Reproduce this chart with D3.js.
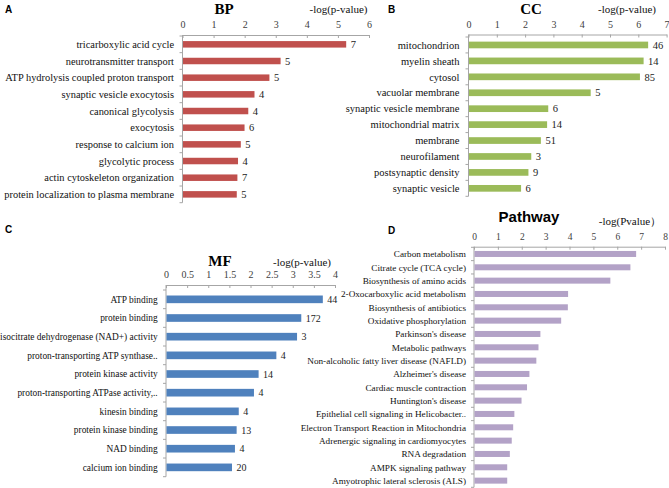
<!DOCTYPE html>
<html><head><meta charset="utf-8">
<script src="https://cdn.jsdelivr.net/npm/d3@7"></script>
<style>body{margin:0;background:#fff}svg{display:block}</style>
</head><body>
<svg id="chart" width="669" height="488"></svg>
<script>
// ---- data ----
const bpTerms = ["tricarboxylic acid cycle","neurotransmitter transport","ATP hydrolysis coupled proton transport","synaptic vesicle exocytosis","canonical glycolysis","exocytosis","response to calcium ion","glycolytic process","actin cytoskeleton organization","protein localization to plasma membrane"];
const bpValues = [5.25,3.14,2.78,2.30,2.10,1.98,1.86,1.77,1.75,1.73];
const bpCounts = [7,5,5,4,4,6,5,4,7,5];
const bpTicks = [0,1,2,3,4,5,6];

const ccTerms = ["mitochondrion","myelin sheath","cytosol","vacuolar membrane","synaptic vesicle membrane","mitochondrial matrix","membrane","neurofilament","postsynaptic density","synaptic vesicle"];
const ccValues = [6.33,6.17,6.04,4.30,2.80,2.76,2.54,2.20,2.10,1.84];
const ccCounts = [46,14,85,5,6,14,51,3,9,6];
const ccTicks = [0,1,2,3,4,5,6,7];

const mfTerms = ["ATP binding","protein binding","isocitrate dehydrogenase (NAD+) activity","proton-transporting ATP synthase..","protein kinase activity","proton-transporting ATPase activity,..","kinesin binding","protein kinase binding","NAD binding","calcium ion binding"];
const mfValues = [3.70,3.19,3.09,2.60,2.18,2.07,1.71,1.66,1.62,1.55];
const mfCounts = [44,172,3,4,14,4,4,13,4,20];
const mfTicks = [0,0.5,1,1.5,2,2.5,3,3.5,4];

const pathwayTerms = ["Carbon metabolism","Citrate cycle (TCA cycle)","Biosynthesis of amino acids","2-Oxocarboxylic acid metabolism","Biosynthesis of antibiotics","Oxidative phosphorylation","Parkinson's disease","Metabolic pathways","Non-alcoholic fatty liver disease (NAFLD)","Alzheimer's disease","Cardiac muscle contraction","Huntington's disease","Epithelial cell signaling in Helicobacter..","Electron Transport Reaction in Mitochondria","Adrenergic signaling in cardiomyocytes","RNA degradation","AMPK signaling pathway","Amyotrophic lateral sclerosis (ALS)"];
const pathwayValues = [6.77,6.53,5.69,3.92,3.91,3.63,2.76,2.68,2.59,2.30,2.20,1.97,1.67,1.62,1.56,1.48,1.37,1.37];
const pathwayTicks = [0,1,2,3,4,5,6,7,8];

// ---- drawing ----
const svg = d3.select("#chart");
const serif = "'Liberation Serif','Times New Roman',serif";
const sans = "'Liberation Sans',Arial,sans-serif";
const axisColor = "#a6a6a6";

function panel(o){
  const g = svg.append("g");
  const x = d3.scaleLinear().domain([o.ticks[0], o.ticks[o.ticks.length-1]]).range([o.x0, o.x1]);
  const y = d3.scaleBand().domain(o.terms).range([o.yTop, o.yBot]).paddingInner(o.pad).paddingOuter(o.pad/2);
  // x axis on top
  const ax = g.append("g").attr("transform", `translate(0,${o.axisY})`)
    .call(d3.axisTop(x).tickValues(o.ticks).tickSize(3).tickSizeOuter(0).tickPadding(4).tickFormat(d3.format("")));
  ax.select(".domain").attr("stroke", axisColor);
  ax.selectAll(".tick line").attr("stroke", axisColor).attr("y2", 3);
  ax.selectAll("text").attr("font-family", serif).attr("font-size", o.tickFont).attr("fill", "#404040");
  // vertical category axis
  g.append("line").attr("x1", o.x0).attr("x2", o.x0).attr("y1", o.axisY).attr("y2", o.yBot).attr("stroke", axisColor);
  const bounds = o.terms.map((t,i)=> y(t) - y.step()*y.paddingInner()/2).concat([o.yBot]);
  g.selectAll(".cb").data(bounds).join("line").attr("x1", o.x0-3).attr("x2", o.x0).attr("y1", d=>d).attr("y2", d=>d).attr("stroke", axisColor);
  // bars
  g.selectAll(".bar").data(o.values).join("rect")
    .attr("x", x(0)+0.5).attr("y", (d,i)=> y(o.terms[i]))
    .attr("width", d=> x(d)-x(0)).attr("height", y.bandwidth()).attr("fill", o.color);
  // category labels
  g.selectAll(".lab").data(o.terms).join("text")
    .attr("x", o.x0 - o.labGap).attr("y", d=> y(d)+y.bandwidth()/2).attr("dy", "0.35em")
    .attr("text-anchor", "end").attr("font-family", serif).attr("font-size", o.labFont).attr("fill", "#111")
    .text(d=>d);
  // counts
  if (o.counts){
    g.selectAll(".cnt").data(o.counts).join("text")
      .attr("x", (d,i)=> x(o.values[i]) + 5).attr("y", (d,i)=> y(o.terms[i])+y.bandwidth()/2).attr("dy", "0.35em")
      .attr("font-family", serif).attr("font-size", o.cntFont).attr("fill", "#222").text(d=>d);
  }
  // titles
  g.append("text").attr("x", o.titleX).attr("y", o.titleY).attr("text-anchor", "middle")
    .attr("font-family", o.titleFamily).attr("font-weight", "bold").attr("font-size", o.titleFont).attr("fill", "#000").text(o.title);
  g.append("text").attr("x", o.unitX).attr("y", o.unitY).attr("text-anchor", "middle")
    .attr("font-family", serif).attr("font-size", o.unitFont).attr("fill", "#111").text(o.unit);
  g.append("text").attr("x", o.letterX).attr("y", o.letterY)
    .attr("font-family", sans).attr("font-weight", "bold").attr("font-size", 10).attr("fill", "#000").text(o.letter);
}

panel({terms: bpTerms, values: bpValues, counts: bpCounts, ticks: bpTicks, color: "#c0504d",
  x0: 182.5, x1: 369, axisY: 35, yTop: 36, yBot: 202.7, pad: 0.61,
  tickFont: 10, labFont: 10.4, cntFont: 10.5, labGap: 8.5,
  title: "BP", titleFamily: serif, titleFont: 15, titleX: 224, titleY: 14,
  unit: "-log(p-value)", unitX: 338.5, unitY: 13, unitFont: 11,
  letter: "A", letterX: 5, letterY: 13});

panel({terms: ccTerms, values: ccValues, counts: ccCounts, ticks: ccTicks, color: "#9bbb59",
  x0: 468.5, x1: 666.6, axisY: 34.5, yTop: 37, yBot: 196.3, pad: 0.58,
  tickFont: 10, labFont: 10.5, cntFont: 10.5, labGap: 9,
  title: "CC", titleFamily: serif, titleFont: 15, titleX: 531, titleY: 14,
  unit: "-log(p-value)", unitX: 627, unitY: 13, unitFont: 11,
  letter: "B", letterX: 388, letterY: 13});

panel({terms: mfTerms, values: mfValues, counts: mfCounts, ticks: mfTicks, color: "#4f81bd",
  x0: 166, x1: 335, axisY: 285, yTop: 290, yBot: 476.7, pad: 0.59,
  tickFont: 10, labFont: 9.4, cntFont: 10, labGap: 8.3,
  title: "MF", titleFamily: serif, titleFont: 15, titleX: 220, titleY: 266,
  unit: "-log(p-value)", unitX: 302, unitY: 266, unitFont: 11,
  letter: "C", letterX: 5, letterY: 233});

panel({terms: pathwayTerms, values: pathwayValues, counts: null, ticks: pathwayTicks, color: "#b3a2c7",
  x0: 474, x1: 665, axisY: 246.7, yTop: 247.3, yBot: 487.3, pad: 0.55,
  tickFont: 9.5, labFont: 9.2, cntFont: 9, labGap: 8,
  title: "Pathway", titleFamily: sans, titleFont: 15, titleX: 529, titleY: 222,
  unit: "-log(Pvalue）", unitX: 630, unitY: 225, unitFont: 11,
  letter: "D", letterX: 388, letterY: 234});
</script>
</body></html>
